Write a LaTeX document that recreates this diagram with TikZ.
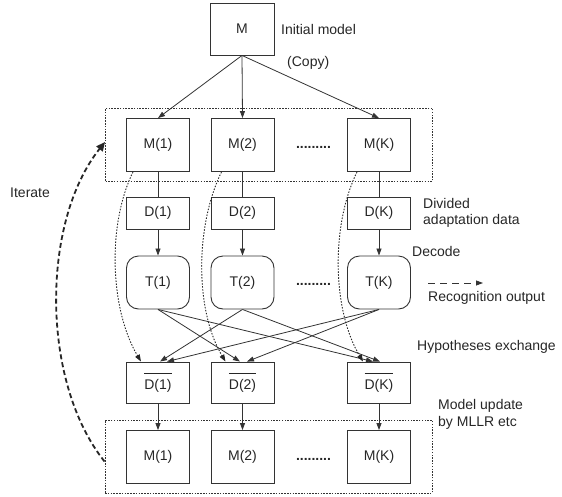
\documentclass[tikz,border=0pt]{standalone}
\usepackage{fontspec}
\setmainfont{Liberation Sans}
\usetikzlibrary{arrows.meta,calc}
\newcommand\ovtext[1]{\leavevmode\vbox{\hrule height 0.8pt\kern 5pt\hbox{#1}}}
\begin{document}
\begin{tikzpicture}[x=1pt,y=-1pt,
  font=\fontsize{14}{16.5}\selectfont,
  every node/.style={text=black!85},
  box/.style={draw=black!80, line width=0.9pt, minimum width=63pt, inner sep=0pt},
  mbox/.style={box, minimum height=53pt},
  dbox/.style={box, minimum height=32pt},
  tbox/.style={box, minimum height=53pt, rounded corners=12pt},
  dbbox/.style={box, minimum height=41pt},
  link/.style={draw=black!80, line width=0.8pt},
  arr/.style={link, -{Triangle[length=7pt,width=5pt]}},
  dotbox/.style={draw=black!80, line width=0.9pt, dash pattern=on 1.5pt off 1.3pt, minimum width=327pt, minimum height=73pt, inner sep=0pt},
  dotarr/.style={draw=black!85, line width=0.9pt, dash pattern=on 1.5pt off 1.5pt, -{Triangle[length=7pt,width=5pt]}},
  iterarr/.style={draw=black!85, line width=1.8pt, dash pattern=on 5pt off 3pt, -{Triangle[length=9pt,width=8pt]}},
  recarr/.style={draw=black!80, line width=0.8pt, dash pattern=on 7pt off 5pt, -{Triangle[length=7pt,width=5pt]}},
  lbl/.style={anchor=west, inner sep=0pt, align=left},
  dotsnode/.style={anchor=base, inner sep=0pt, font=\fontsize{14}{16.5}\selectfont\bfseries}
]
\useasboundingbox (0,0) rectangle (562,496);

% group boxes
\node[dotbox] (topgrp) at (269,144.5) {};
\node[dotbox] (botgrp) at (268.5,456.5) {};

% top model
\node[box, minimum width=64pt, minimum height=52pt] (M) at (242,29) {M};
\node[lbl] (initl) at (281,29) {Initial model};
\node[lbl] (copyl) at (287,63) {(Copy)};

% model row
\node[mbox] (M1) at (158,145) {M(1)};
\node[mbox] (M2) at (242.5,145) {M(2)};
\node[mbox] (MK) at (379,145) {M(K)};
\node[dotsnode] (dotsA) at (313.5,148) {.........};

% data row
\node[dbox] (D1) at (158,213) {D(1)};
\node[dbox] (D2) at (242.5,213) {D(2)};
\node[dbox] (DK) at (379,213) {D(K)};
\node[lbl] (divl) at (423,213) {Divided\\adaptation data};

% decode row
\node[tbox] (T1) at (158,282.5) {T(1)};
\node[tbox] (T2) at (242.5,282.5) {T(2)};
\node[tbox] (TK) at (379,282.5) {T(K)};
\node[dotsnode] (dotsB) at (313.5,285) {.........};
\node[lbl] (decl) at (412,251) {Decode};
\coordinate (ro1) at (428,283);
\coordinate (ro2) at (483,283);
\draw[recarr] (ro1) -- (ro2);
\node[lbl] (recl) at (428,298) {Recognition output};
\node[lbl] (hypl) at (417,347) {Hypotheses exchange};

% exchanged data row
\node[dbbox] (Db1) at (158,382.5) {\ovtext{D(1)}};
\node[dbbox] (Db2) at (242.5,382.5) {\ovtext{D(2)}};
\node[dbbox] (DbK) at (379,382.5) {\ovtext{D(K)}};

% updated models
\node[mbox] (N1) at (158,457) {M(1)};
\node[mbox] (N2) at (242.5,457) {M(2)};
\node[mbox] (NK) at (379,457) {M(K)};
\node[dotsnode] (dotsC) at (313.5,460) {.........};
\node[lbl] (updl) at (438,414.5) {Model update\\by MLLR etc};

\node[lbl] (iterl) at (10,193) {Iterate};

% copy arrows
\draw[arr] (M.south) -- (M1.north);
\draw[arr] (M.south) -- (M2.north);
\draw[arr] (M.south) -- (MK.north);

% model to data
\draw[link] (M1.south) -- (D1.north);
\draw[link] (M2.south) -- (D2.north);
\draw[link] (MK.south) -- (DK.north);

% data to decode
\draw[arr] (D1.south) -- (T1.north);
\draw[arr] (D2.south) -- (T2.north);
\draw[arr] (DK.south) -- (TK.north);

% hypotheses exchange
\draw[arr] (T2.south) -- ([xshift=2pt]Db1.north);
\draw[arr] (TK.south) -- ([xshift=9pt]Db1.north);
\draw[arr] (T1.south) -- ([xshift=-2.5pt]Db2.north);
\draw[arr] (TK.south) -- ([xshift=4.5pt]Db2.north);
\draw[arr] (T1.south) -- ([xshift=-6pt]DbK.north);
\draw[arr] (T2.south) -- ([xshift=1pt]DbK.north);

% dotted model to exchanged data
\draw[dotarr] ([xshift=-25pt]M1.south) .. controls +(-26,53) and +(-31,-52) .. ([xshift=-17pt]Db1.north);
\draw[dotarr] ([xshift=-21pt]M2.south) .. controls +(-26,53) and +(-31,-52) .. ([xshift=-17pt]Db2.north);
\draw[dotarr] ([xshift=-22pt]MK.south) .. controls +(-26,53) and +(-31,-52) .. ([xshift=-16pt]DbK.north);

% exchanged data to updated models
\draw[arr] (Db1.south) -- (N1.north);
\draw[arr] (Db2.south) -- (N2.north);
\draw[arr] (DbK.south) -- (NK.north);

% iterate
\draw[iterarr] ($(botgrp.west)+(0,5)$) .. controls +(-64,-80) and +(-64,80) .. ($(topgrp.west)+(0,-2.5)$);
\end{tikzpicture}
\end{document}
